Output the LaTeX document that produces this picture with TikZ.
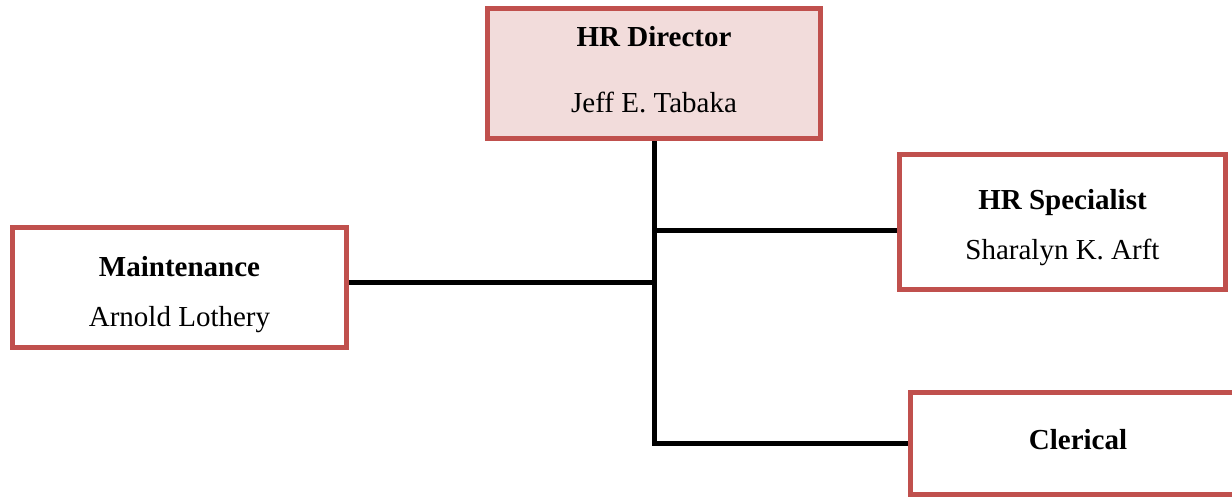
\documentclass[tikz,border=0pt]{standalone}
\usepackage{fontspec}
\setmainfont{Liberation Serif}
\usepackage{tikz}
\definecolor{boxred}{HTML}{C0504D}
\definecolor{boxpink}{HTML}{F2DCDB}
% #1 extra height above, #2 extra depth below (moves the text down / up)
\newcommand{\role}[4]{\rule{0pt}{#1}\textbf{#3}\\#4\rule[-#2]{0pt}{0pt}}

\begin{document}
\begin{tikzpicture}[x=1pt,y=-1pt,
    unit/.style={draw=boxred,line width=5pt,fill=white,align=center,
      font=\fontsize{29}{50}\selectfont,inner sep=0pt},
    link/.style={line width=5pt,black}]
    \useasboundingbox (0,0) rectangle (1232,498);
    \node[unit,fill=boxpink,minimum width=333pt,minimum height=130pt,
      font=\fontsize{29}{66}\selectfont] (dir) at (654,73.5) {\role{20pt}{8pt}{HR Director}{Jeff E. Tabaka}};
    \node[unit,minimum width=326pt,minimum height=135pt] (spec) at (1062.5,222) {\role{32pt}{0pt}{HR Specialist}{Sharalyn K. Arft}};
    \node[unit,minimum width=334pt,minimum height=120pt] (maint) at (179.5,287) {\role{36pt}{0pt}{Maintenance}{Arnold Lothery}};
    \node[unit,minimum width=335pt,minimum height=102pt] (cler) at (1078,443) {\textbf{Clerical}\rule[-8pt]{0pt}{8pt}};
    \draw[link] (dir) |- (cler);
    \draw[link] ([yshift=-8pt]spec.west) -- ([yshift=-8pt]spec.west -| dir.south);
    \draw[link] ([yshift=5pt]maint.east) -- ([yshift=5pt]maint.east -| dir.south);
  \end{tikzpicture}
\end{document}
